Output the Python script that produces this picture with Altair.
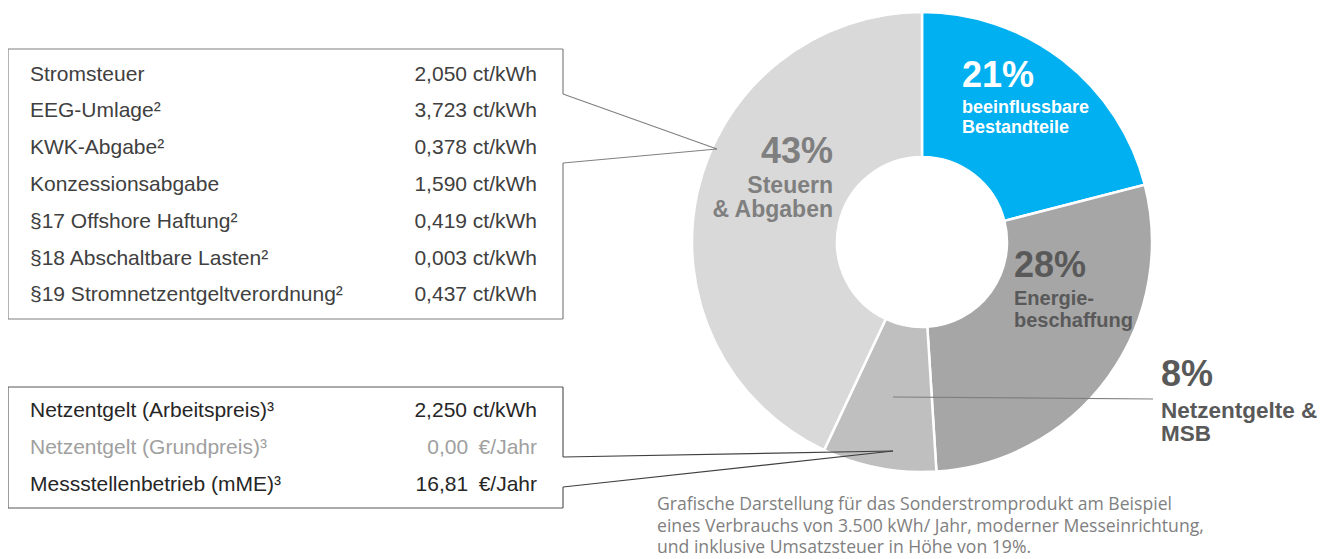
import altair as alt
import pandas as pd

# ---------------- data ----------------
SLICE_SHARE = [21, 28, 8, 43]
SLICE_PCT = ["21%", "28%", "8%", "43%"]
SLICE_DESC = [["beeinflussbare", "Bestandteile"],
              ["Energie-", "beschaffung"],
              ["Netzentgelte &", "MSB"],
              ["Steuern", "& Abgaben"]]

TAX_ITEMS = ["Stromsteuer", "EEG-Umlage²", "KWK-Abgabe²", "Konzessionsabgabe",
             "§17 Offshore Haftung²", "§18 Abschaltbare Lasten²",
             "§19 Stromnetzentgeltverordnung²"]
TAX_VALUES = ["2,050 ct/kWh", "3,723 ct/kWh", "0,378 ct/kWh", "1,590 ct/kWh",
              "0,419 ct/kWh", "0,003 ct/kWh", "0,437 ct/kWh"]

NET_ITEMS = ["Netzentgelt (Arbeitspreis)³", "Netzentgelt (Grundpreis)³",
             "Messstellenbetrieb (mME)³"]
NET_VALUES = ["2,250 ct/kWh", "0,00\u2002€/Jahr", "16,81\u2002€/Jahr"]

CAPTION = ["Grafische Darstellung für das Sonderstromprodukt am Beispiel",
           "eines Verbrauchs von 3.500 kWh/ Jahr, moderner Messeinrichtung,",
           "und inklusive Umsatzsteuer in Höhe von 19%."]

# ---------------- styles / layout ----------------
SLICE_COLORS = ["#00B0F0", "#A6A6A6", "#BFBFBF", "#D9D9D9"]
LABEL_COLORS = ["#FFFFFF", "#595959", "#595959", "#7F7F7F"]
OFF = 8  # page margin
CX, CY = 922, 242
R_OUT, R_IN = 230, 85

# (x, pct baseline, desc baselines, desc size, align) per slice
LABEL_POS = [
    (962, 87, [113, 133], 18, "left"),
    (1014, 277, [305, 327], 20, "left"),
    (1161, 386, [418, 441], 22.5, "left"),
    (833, 163, [193, 217], 23, "right"),
]

ARIAL = "Liberation Sans, Arial, sans-serif"
TABLE_SIZE = 21

# ---------------- donut ----------------
donut_df = pd.DataFrame({
    "share": SLICE_SHARE,
    "order": list(range(len(SLICE_SHARE))),
    "color": SLICE_COLORS,
})
donut = alt.Chart(donut_df).mark_arc(
    innerRadius=R_IN, outerRadius=R_OUT, stroke="white", strokeWidth=2.5
).encode(
    theta=alt.Theta("share:Q", stack=True),
    order=alt.Order("order:Q"),
    color=alt.Color("color:N", scale=None),
    x=alt.value(CX - OFF),
    y=alt.value(CY - OFF),
)

# ---------------- slice labels ----------------
rows = []
for i, (x, yb, dys, dsize, al) in enumerate(LABEL_POS):
    rows.append(dict(x=x - OFF, y=yb - OFF, t=SLICE_PCT[i], size=36,
                     color=LABEL_COLORS[i], al=al))
    for line, dy in zip(SLICE_DESC[i], dys):
        rows.append(dict(x=x - OFF, y=dy - OFF, t=line, size=dsize,
                         color=LABEL_COLORS[i], al=al))
lab_df = pd.DataFrame(rows)


def text_layer(df, align, font, weight="normal"):
    return alt.Chart(df).mark_text(
        align=align, baseline="alphabetic", font=font, fontWeight=weight
    ).encode(
        x=alt.X("x:Q", scale=None, axis=None),
        y=alt.Y("y:Q", scale=None, axis=None),
        text="t:N",
        size=alt.Size("size:Q", scale=None, legend=None),
        color=alt.Color("color:N", scale=None),
    )


lab_left = text_layer(lab_df[lab_df["al"] == "left"], "left", ARIAL, "bold")
lab_right = text_layer(lab_df[lab_df["al"] == "right"], "right", ARIAL, "bold")

# ---------------- tables ----------------
TOP_BASE = [80.5 + 36.8 * i for i in range(len(TAX_ITEMS))]
NET_BASE = [417, 454, 491]
NET_COLORS = ["#262626", "#A0A0A0", "#262626"]

tl, tv = [], []
for name, val, yb in zip(TAX_ITEMS, TAX_VALUES, TOP_BASE):
    tl.append(dict(x=30 - OFF, y=yb - OFF, t=name, size=TABLE_SIZE, color="#404040"))
    tv.append(dict(x=537 - OFF, y=yb - OFF, t=val, size=TABLE_SIZE, color="#404040"))
for name, val, yb, c in zip(NET_ITEMS, NET_VALUES, NET_BASE, NET_COLORS):
    tl.append(dict(x=30 - OFF, y=yb - OFF, t=name, size=TABLE_SIZE, color=c))
    tv.append(dict(x=537 - OFF, y=yb - OFF, t=val, size=TABLE_SIZE, color=c))

tab_labels = text_layer(pd.DataFrame(tl), "left", ARIAL)
tab_values = text_layer(pd.DataFrame(tv), "right", ARIAL)

# ---------------- caption ----------------
cap_df = pd.DataFrame([
    dict(x=657 - OFF, y=yb - OFF, t=line, size=17.6, color="#808080")
    for line, yb in zip(CAPTION, [510, 531.5, 552.5])
])
caption = text_layer(cap_df, "left", "Open Sans, Segoe UI, sans-serif")

# ---------------- box outlines and leader lines ----------------
SEGMENTS = [
    # top box (callout)
    ((8, 49), (563, 49), "#808080"), ((8, 49), (8, 319), "#808080"),
    ((8, 319), (563, 319), "#808080"), ((563, 49), (563, 94), "#808080"),
    ((563, 94), (717, 149), "#808080"), ((717, 149), (563, 163), "#808080"),
    ((563, 163), (563, 319), "#808080"),
    # bottom box (callout)
    ((8, 387), (563, 387), "#595959"), ((8, 387), (8, 508), "#595959"),
    ((8, 508), (563, 508), "#595959"), ((563, 387), (563, 457), "#595959"),
    ((563, 457), (893, 451), "#404040"), ((893, 451), (563, 487), "#404040"),
    ((563, 487), (563, 508), "#595959"),
    # leader to 8% label
    ((893, 397), (1153, 399), "#7F7F7F"),
]
seg_df = pd.DataFrame([
    dict(x=a[0] - OFF, y=a[1] - OFF, x2=b[0] - OFF, y2=b[1] - OFF, color=c)
    for a, b, c in SEGMENTS
])
segs = alt.Chart(seg_df).mark_rule(strokeWidth=1.2).encode(
    x=alt.X("x:Q", scale=None, axis=None),
    y=alt.Y("y:Q", scale=None, axis=None),
    x2="x2:Q",
    y2="y2:Q",
    color=alt.Color("color:N", scale=None),
)

chart = alt.layer(
    donut, segs, lab_left, lab_right, tab_labels, tab_values, caption
).properties(
    width=1326, height=551,
    autosize=alt.AutoSizeParams(type="none"),
    padding=0,
).configure_view(strokeWidth=0)

chart.save("out.html", embed_options={"renderer": "svg", "actions": False})
